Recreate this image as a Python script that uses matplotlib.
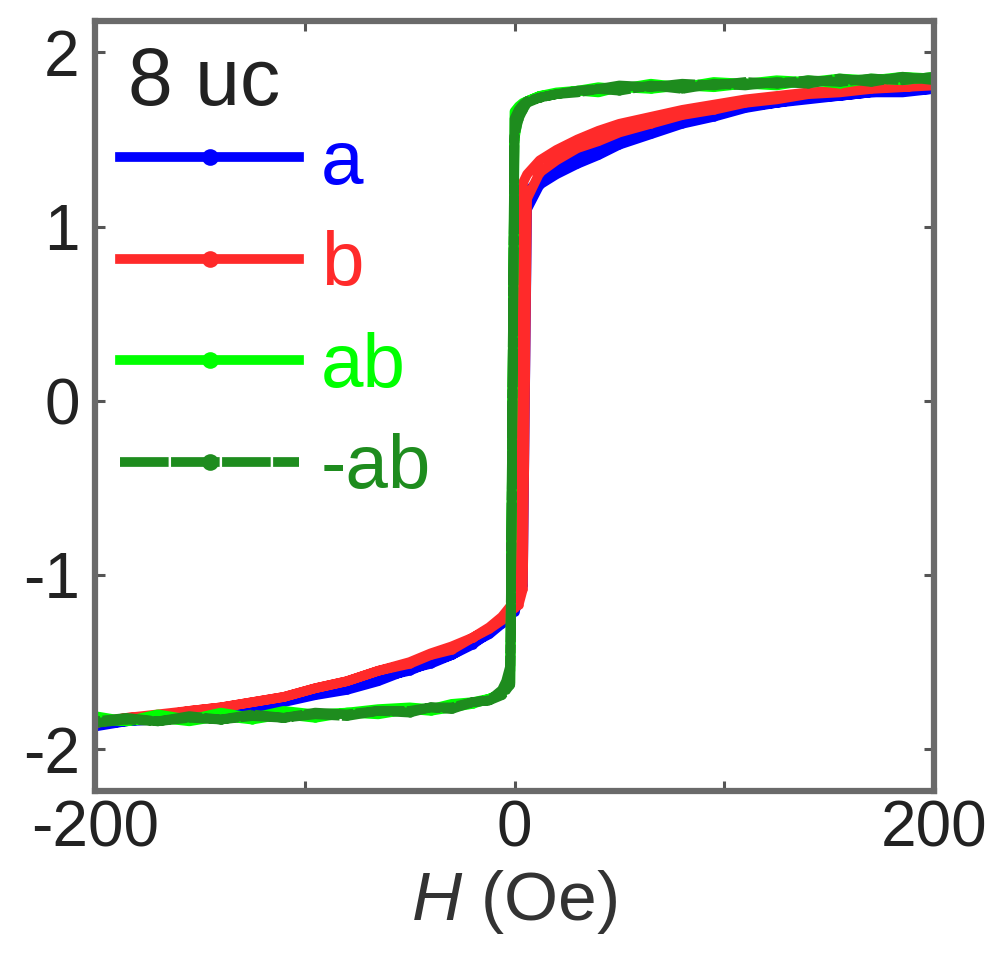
import matplotlib
matplotlib.use("Agg")
import matplotlib.pyplot as plt

plt.rcParams['font.family'] = ['Liberation Sans', 'DejaVu Sans']
plt.rcParams['axes.unicode_minus'] = False
plt.rcParams['mathtext.fontset'] = 'custom'
plt.rcParams['mathtext.it'] = 'Liberation Sans:italic'
plt.rcParams['mathtext.rm'] = 'Liberation Sans'

# field grids (Oe)
H_down = [200, 185, 170, 155, 140, 125, 110, 95, 80, 65, 50, 40, 30, 20, 12, 6, 4, 2, 0,
          -2, -4, -6, -12, -20, -30, -40, -50, -65, -80, -95, -110, -125, -140, -155, -170, -185, -200]
H_up = [-200, -185, -170, -155, -140, -125, -110, -95, -80, -65, -50, -40, -30, -20, -12, -6, -4, -2, 0,
        2, 4, 6, 12, 20, 30, 40, 50, 65, 80, 95, 110, 125, 140, 155, 170, 185, 200]

# magnetization, branch sweeping down (200 -> -200) and up (-200 -> 200)
a_down = [1.79, 1.77, 1.77, 1.75, 1.73, 1.71, 1.69, 1.66, 1.62, 1.57, 1.52, 1.46, 1.40, 1.33, 1.27, 1.20, 1.17, -1.02, -1.20,
          -1.23, -1.25, -1.27, -1.33, -1.40, -1.46, -1.51, -1.54, -1.61, -1.66, -1.69, -1.73, -1.77, -1.78, -1.81, -1.82, -1.84, -1.86]
a_up = [-1.87, -1.84, -1.83, -1.80, -1.78, -1.75, -1.72, -1.68, -1.65, -1.59, -1.55, -1.50, -1.46, -1.39, -1.34, -1.28, -1.26, -1.23, -1.21,
        -1.15, -1.06, 1.10, 1.24, 1.30, 1.36, 1.41, 1.47, 1.53, 1.59, 1.63, 1.68, 1.71, 1.74, 1.75, 1.77, 1.78, 1.79]

b_down = [1.82, 1.80, 1.80, 1.78, 1.77, 1.75, 1.73, 1.70, 1.67, 1.63, 1.59, 1.55, 1.50, 1.44, 1.38, 1.30, 1.25, -1.05, -1.14,
          -1.18, -1.21, -1.24, -1.30, -1.36, -1.41, -1.45, -1.50, -1.55, -1.61, -1.65, -1.70, -1.73, -1.76, -1.78, -1.80, -1.82, -1.85]
b_up = [-1.85, -1.82, -1.81, -1.78, -1.76, -1.73, -1.70, -1.65, -1.61, -1.55, -1.51, -1.46, -1.43, -1.36, -1.31, -1.26, -1.23, -1.21, -1.19,
        -1.17, -1.08, 1.16, 1.31, 1.38, 1.45, 1.49, 1.54, 1.59, 1.64, 1.67, 1.71, 1.73, 1.76, 1.77, 1.79, 1.80, 1.81]

ab_down = [1.86, 1.84, 1.85, 1.82, 1.84, 1.81, 1.82, 1.80, 1.81, 1.79, 1.80, 1.77, 1.78, 1.76, 1.75, 1.72, 1.71, 1.69, 1.66,
           -1.55, -1.63, -1.68, -1.71, -1.74, -1.76, -1.78, -1.77, -1.80, -1.79, -1.82, -1.80, -1.83, -1.81, -1.84, -1.82, -1.84, -1.83]
ab_up = [-1.81, -1.84, -1.80, -1.83, -1.79, -1.82, -1.78, -1.80, -1.79, -1.77, -1.76, -1.77, -1.74, -1.73, -1.71, -1.68, -1.65, -1.62, 1.50,
         1.64, 1.69, 1.72, 1.75, 1.77, 1.78, 1.80, 1.79, 1.82, 1.80, 1.83, 1.82, 1.84, 1.83, 1.85, 1.84, 1.86, 1.85]

mab_down = [1.84, 1.86, 1.83, 1.85, 1.82, 1.83, 1.81, 1.82, 1.79, 1.81, 1.78, 1.79, 1.77, 1.76, 1.74, 1.72, 1.70, 1.67, 1.62,
            -1.52, -1.61, -1.66, -1.72, -1.73, -1.77, -1.76, -1.79, -1.78, -1.81, -1.80, -1.82, -1.81, -1.83, -1.82, -1.84, -1.83, -1.85]
mab_up = [-1.84, -1.82, -1.84, -1.81, -1.83, -1.80, -1.82, -1.79, -1.80, -1.78, -1.78, -1.76, -1.76, -1.73, -1.72, -1.69, -1.66, -1.63, 1.52,
          1.62, 1.67, 1.71, 1.74, 1.76, 1.78, 1.79, 1.81, 1.80, 1.82, 1.81, 1.83, 1.82, 1.84, 1.83, 1.85, 1.84, 1.86]

labels = ['a', 'b', 'ab', '-ab']
colors = ['#0000FF', '#FF2A2A', '#00FF00', '#1E8C1E']
styles = ['-', '-', '-', (0, (5, 0.25))]
series = [(a_down, a_up), (b_down, b_up), (ab_down, ab_up), (mab_down, mab_up)]

x_ticks = [-200, -100, 0, 100, 200]
x_ticklabels = ['-200', '', '0', '', '200']
y_ticks = [-2, -1, 0, 1, 2]
y_ticklabels = ['-2', '-1', '0', '1', '2']

fig = plt.figure(figsize=(9.96, 9.56), dpi=100)
ax = fig.add_axes([95 / 996, 1 - 791 / 956, 839 / 996, 770 / 956])

for (mdn, mup), lab, col, ls in zip(series, labels, colors, styles):
    ax.plot(H_down + H_up, mdn + mup, color=col, lw=7, ls=ls, marker='o', ms=6,
            markeredgewidth=0, label=lab, solid_joinstyle='round')

ax.set_xlim(-200, 200)
ax.set_ylim(-2.24, 2.18)
ax.set_xticks(x_ticks)
ax.set_xticklabels(x_ticklabels)
ax.set_yticks(y_ticks)
ax.set_yticklabels(y_ticklabels)
ax.tick_params(direction='in', length=7, width=2.2, color='#555555',
               top=True, right=True, labelsize=46, labelcolor='#222222')
ax.tick_params(axis='x', pad=6)
ax.tick_params(axis='y', pad=11)
for sp in ax.spines.values():
    sp.set_linewidth(4.5)
    sp.set_color('#6a6a6a')

ax.set_xlabel(r'$\it{H}$ (Oe)', fontsize=50, color='#333333', labelpad=6)

ax.text(0.039, 0.891, '8 uc', transform=ax.transAxes, fontsize=58,
        color='#222222', va='baseline', ha='left')

leg = ax.legend(loc='upper left', bbox_to_anchor=(0.030, 0.860), frameon=False,
                fontsize=55, handlelength=2.34, handletextpad=0.29,
                labelspacing=0.40, borderpad=0, borderaxespad=0, markerscale=2.0)
for txt, col in zip(leg.get_texts(), colors):
    txt.set_color(col)

fig.savefig('out.png', dpi=100)
